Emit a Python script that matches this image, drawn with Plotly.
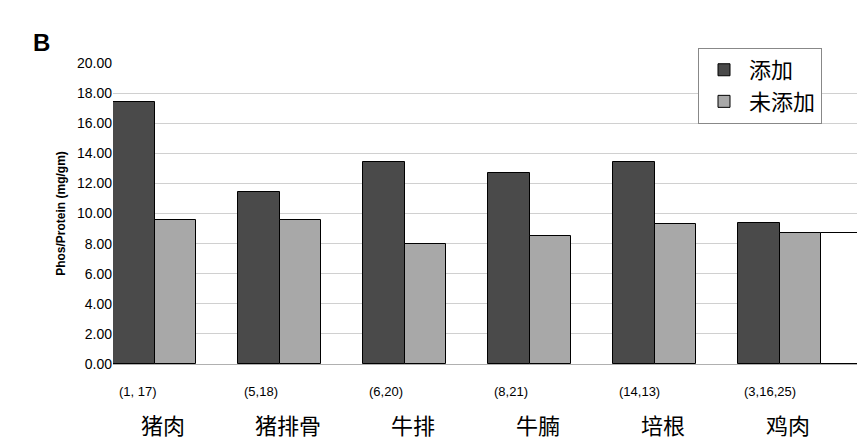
import plotly.graph_objects as go

categories = ["猪肉", "猪排骨", "牛排", "牛腩", "培根", "鸡肉"]
counts = ["(1, 17)", "(5,18)", "(6,20)", "(8,21)", "(14,13)", "(3,16,25)"]
added = [17.4, 11.4, 13.4, 12.7, 13.4, 9.4]
not_added = [9.6, 9.6, 8.0, 8.5, 9.3, 8.7]
extra = [None, None, None, None, None, 8.7]
yticks = [0, 2, 4, 6, 8, 10, 12, 14, 16, 18, 20]

fig = go.Figure()
line = dict(color="black", width=1)
fig.add_bar(x=categories, y=added, name="添加", marker=dict(color="#4a4a4a", line=line))
fig.add_bar(x=categories, y=not_added, name="未添加", marker=dict(color="#a8a8a8", line=line))
fig.add_bar(x=categories, y=extra, name="", showlegend=False, marker=dict(color="white", line=line))

for i, (c, n) in enumerate(zip(categories, counts)):
    fig.add_annotation(x=i - 0.47, y=0, yshift=-18, xref="x", yref="paper", text=n, showarrow=False,
                       xanchor="left", yanchor="top", font=dict(size=13, color="black"))
    fig.add_annotation(x=i - 0.1, y=0, yshift=-42, xref="x", yref="paper", text=c, showarrow=False,
                       yanchor="top", font=dict(size=22, color="black", family="Noto Sans CJK SC"))

fig.add_annotation(x=-0.11, y=1.12, xref="paper", yref="paper", text="<b>B</b>", showarrow=False,
                   xanchor="left", font=dict(size=24, color="black", family="Arial"))

fig.update_layout(
    width=865, height=445, barmode="group", bargap=0, bargroupgap=0,
    margin=dict(l=105, r=10, t=55, b=89),
    plot_bgcolor="white", paper_bgcolor="white",
    font=dict(family="Liberation Sans", color="black"),
    legend=dict(x=0.78, y=1.05, xanchor="left", yanchor="top", bgcolor="white",
                bordercolor="#888888", borderwidth=1,
                font=dict(size=22, family="Noto Sans CJK SC"), itemwidth=40, tracegroupgap=0),
    yaxis=dict(range=[0, 20], tickvals=yticks, ticktext=[f"{v:.2f}" for v in yticks],
               showgrid=True, gridcolor="#d0d0d0", zeroline=False, showline=False,
               tickfont=dict(size=14), ticks="",
               title=dict(text="<b>Phos/Protein (mg/gm)</b>", font=dict(size=12), standoff=8)),
    xaxis=dict(showticklabels=False, showline=True, linecolor="#b0b0b0", range=[-0.5, 5.5]),
)

fig.write_html("out.html")
